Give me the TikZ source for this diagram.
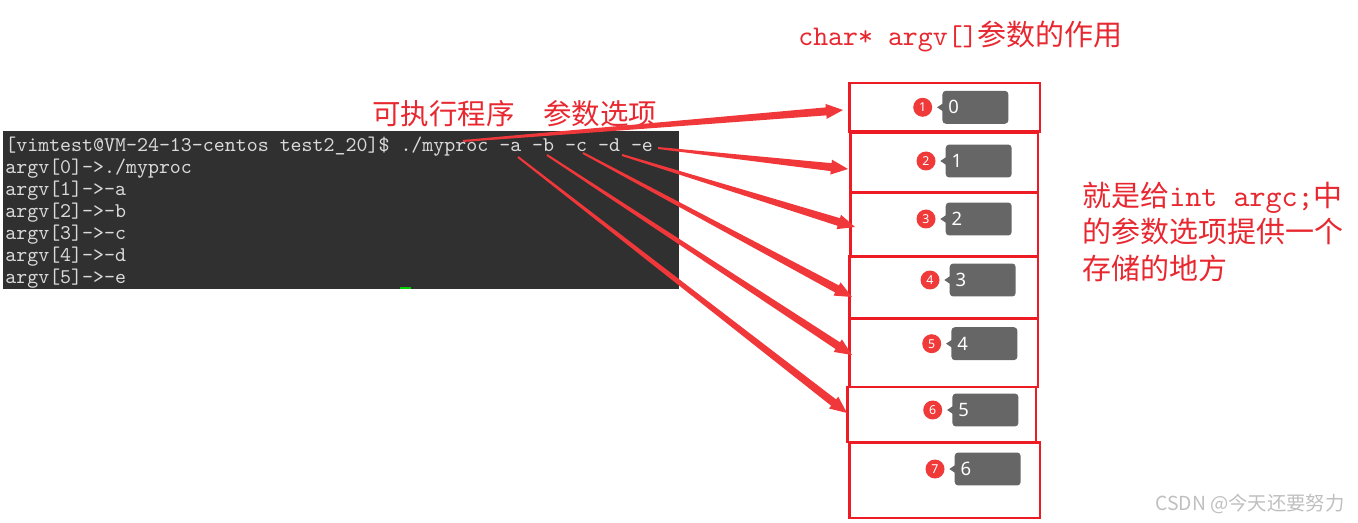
\documentclass[tikz,border=0pt]{standalone}
\usepackage{fontspec}
\newfontfamily\cjk{Noto Sans CJK SC}
\newfontfamily\tmono{lmmono10-regular.otf}
\newfontfamily\tagfont{Noto Sans}
\usetikzlibrary{calc,positioning}

\definecolor{boxred}{RGB}{237,28,36}
\definecolor{arrowred}{RGB}{240,55,58}
\definecolor{badgered}{RGB}{240,58,58}
\definecolor{taggray}{RGB}{102,102,102}
\definecolor{textred}{RGB}{232,40,48}
\definecolor{termbg}{RGB}{48,48,48}
\definecolor{termfg}{RGB}{218,218,218}

% tapered arrow: thin at the start, wide at the head
\newcommand\taparrow[2]{%
  \path ($(#2)!0.34cm!(#1)$) coordinate (hb);
  \fill[arrowred] ($(#1)!0.02cm!90:(#2)$) -- ($(hb)!0.08cm!-90:(#1)$) -- ($(hb)!0.15cm!-90:(#1)$)
    -- (#2) -- ($(hb)!0.15cm!90:(#1)$) -- ($(hb)!0.08cm!90:(#1)$) -- ($(#1)!0.02cm!-90:(#2)$) -- cycle;
}

\begin{document}
\begin{tikzpicture}[x=0.02cm,y=-0.02cm,
  txt/.style={inner sep=0,anchor=base west},
  term/.style={txt,text=termfg,font=\tmono\fontsize{11.9}{14}\selectfont},
  cell/.style={draw=boxred,line width=1.7pt,outer sep=0,inner sep=0},
  badge/.style={circle,fill=badgered,text=white,inner sep=0,minimum size=0.38cm,font=\tagfont\bfseries\fontsize{7}{8}\selectfont},
  tag/.style={fill=taggray,rounded corners=2pt,minimum height=0.66cm,text width=1.08cm,inner xsep=0.12cm,align=left,text=white,font=\tagfont\fontsize{10.5}{12}\selectfont}]
   \useasboundingbox (0,0) rectangle (1358,523);

   % terminal
   \fill[termbg] (3,131) rectangle (679,289);
   \node[term] (cmd) at (5,152) {[vimtest@VM-24-13-centos test2\_20]\$ ./myproc -a -b -c -d -e};
   \node[term] (v0) at (5,174) {argv[0]->./myproc};
   \node[term] (v1) at (5,196) {argv[1]->-a};
   \node[term] (v2) at (5,218) {argv[2]->-b};
   \node[term] (v3) at (5,240) {argv[3]->-c};
   \node[term] (v4) at (5,262) {argv[4]->-d};
   \node[term] (v5) at (5,284) {argv[5]->-e};
   \fill[green!80!black] (400,287.5) rectangle (411,289.5);

   % texts
   \node[txt,text=textred,font=\fontsize{16.5}{20}\selectfont] (title) at (798,46) {{\tmono\fontsize{16.2}{20}\selectfont char* argv[]}{\cjk 参数的作用}};
   \node[txt,text=textred,font=\cjk\fontsize{16.2}{20}\selectfont] (exe) at (372,125) {可执行程序\hspace{1em}参数选项};
   \node[txt,text=textred,font=\cjk\fontsize{16.5}{20}\selectfont] (r1) at (1082,207) {就是给{\tmono\fontsize{17.4}{20}\selectfont int argc;}中};
   \node[txt,text=textred,font=\cjk\fontsize{16.5}{20}\selectfont] (r2) at (1082,243) {的参数选项提供一个};
   \node[txt,text=textred,font=\cjk\fontsize{16.5}{20}\selectfont] (r3) at (1082,280) {存储的地方};
   \node[txt,text=gray!50,font=\cjk\fontsize{11}{13}\selectfont] (mark) at (1155,510) {CSDN @今天还要努力};

   % argv cells
   \foreach \i/\x/\y/\w/\h in {0/944.5/107.5/3.82/0.98, 1/944/163/3.76/1.20, 2/944/225/3.76/1.28,
        3/943.5/287/3.78/1.24, 4/943.5/352.5/3.78/1.38, 5/941.5/414.5/3.78/1.10, 6/944.5/480/3.82/1.52}
     \node[cell,minimum width=\w cm,minimum height=\h cm] (b\i) at (\x,\y) {};

   % badges and tags
   \foreach \i/\x/\y in {0/922.7/107.3, 1/926/161, 2/926/219, 3/930/280, 4/931.7/343.7, 5/932.7/410, 6/935/469} {
     \pgfmathtruncatemacro\k{\i+1}
     \node[badge] (c\i) at (\x,\y) {\k};
     \node[tag,right=0.19cm of c\i] (g\i) {\i};
     \fill[taggray] ($(g\i.west)+(1,-4)$) -- ++(-6,4) -- ++(6,4) -- cycle;
   }

   % arrows
   \coordinate (a0) at (463,141);
   \coordinate (a1) at (658,148);
   \coordinate (a2) at (622,155);
   \coordinate (a3) at (583,153);
   \coordinate (a4) at (547,155);
   \coordinate (a5) at (518,157);
   \coordinate (t0) at ($(b0.west)+(-6,2.5)$);
   \coordinate (t1) at ($(b1.west)+(-2,6)$);
   \coordinate (t2) at ($(b2.west)+(5,2)$);
   \coordinate (t3) at ($(b3.west)+(3,10)$);
   \coordinate (t4) at ($(b4.west)+(3,2.5)$);
   \coordinate (t5) at ($(b5.west)+(0,-1.5)$);
   \foreach \i in {0,...,5} {\taparrow{a\i}{t\i}}

\end{tikzpicture}
\end{document}
